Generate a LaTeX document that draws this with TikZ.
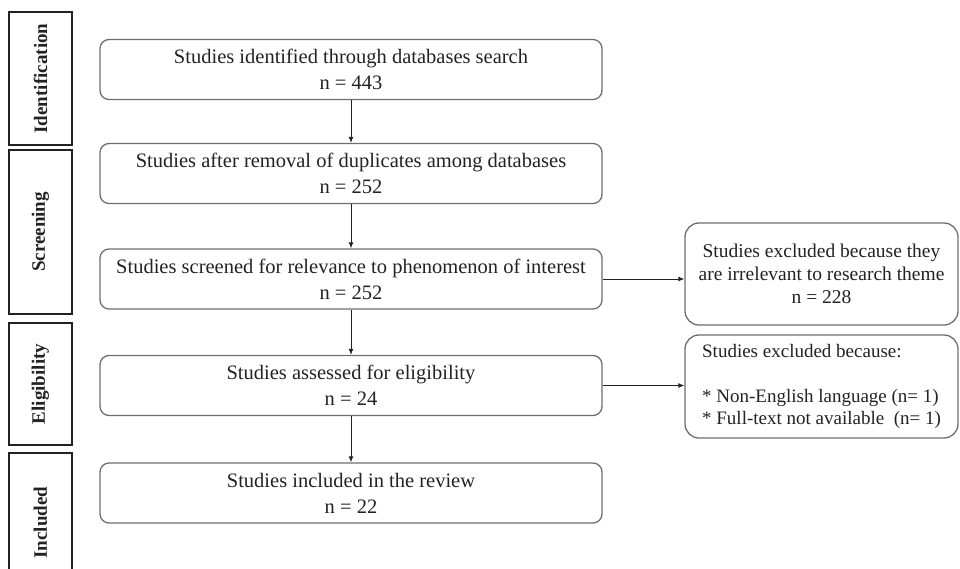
\documentclass[tikz,border=0pt]{standalone}
\usepackage{fontspec}
\setmainfont{Liberation Serif}
\usetikzlibrary{arrows.meta}
\definecolor{boxgray}{HTML}{6E6E6E}
\definecolor{ink}{HTML}{222222}
\begin{document}
\begin{tikzpicture}[x=1pt,y=-1pt,
  stagebox/.style={draw=boxgray, line width=1.3pt, rounded corners=9pt,
    minimum width=502pt, minimum height=60pt, align=center,
    font=\fontsize{20.5}{26}\selectfont, text=ink, inner sep=0pt},
  sidebox/.style={draw=boxgray, line width=1.3pt, rounded corners=14pt,
    minimum width=273pt, align=center,
    font=\fontsize{19.5}{23}\selectfont, text=ink, inner sep=0pt},
  phase/.style={draw=ink, line width=1.3pt, rotate=90, minimum height=63pt,
    font=\bfseries\fontsize{19}{21}\selectfont, text=ink, inner sep=0pt},
  flow/.style={draw=ink, line width=0.9pt, -{Latex[length=6pt,width=5pt]}}
]
\useasboundingbox (0,0) rectangle (960,568);

% phase labels on the left
\node[phase, minimum width=133pt] (ident) at (40.5,78.5) {Identification};
\node[phase, minimum width=164pt] (screen) at (40.5,232) {Screening};
\node[phase, minimum width=122pt] (elig) at (40.5,384) {Eligibility};
\node[phase, minimum width=139pt] (incl) at (40.5,522.5) {Included};

% main flow
\node[stagebox] (b1) at (351,69.5) {Studies identified through databases search\\n = 443};
\node[stagebox] (b2) at (351,173.5) {Studies after removal of duplicates among databases\\n = 252};
\node[stagebox] (b3) at (351,279) {Studies screened for relevance to phenomenon of interest\\n = 252};
\node[stagebox] (b4) at (351,385.5) {Studies assessed for eligibility\\n = 24};
\node[stagebox] (b5) at (351,493) {Studies included in the review\\n = 22};

% exclusions
\node[sidebox, minimum height=102pt] (s1) at (821.5,274)
  {Studies excluded because they\\are irrelevant to research theme\\n = 228};
\node[sidebox, minimum height=103pt, align=left,
  font=\fontsize{19}{22.5}\selectfont] (s2) at (821.5,386.5)
  {Studies excluded because:\\\mbox{}\\\mbox{*} Non-English language (n= 1)\\\mbox{*} Full-text not available~ (n= 1)};

% connectors
\draw[flow] (b1) -- (b2);
\draw[flow] (b2) -- (b3);
\draw[flow] (b3) -- (b4);
\draw[flow] (b4) -- (b5);
\draw[flow] (b3.east) -- (b3.east -| s1.west);
\draw[flow] (b4.east) -- (b4.east -| s2.west);
\end{tikzpicture}
\end{document}
